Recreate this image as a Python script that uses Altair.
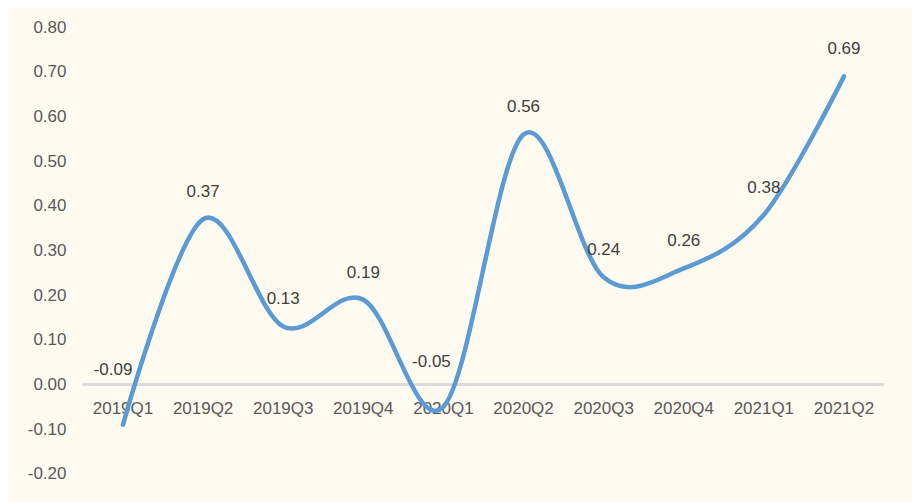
import altair as alt
import pandas as pd

quarters = ["2019Q1", "2019Q2", "2019Q3", "2019Q4", "2020Q1",
            "2020Q2", "2020Q3", "2020Q4", "2021Q1", "2021Q2"]
values = [-0.09, 0.37, 0.13, 0.19, -0.05, 0.56, 0.24, 0.26, 0.38, 0.69]
y_ticks = [-0.2, -0.1, 0.0, 0.1, 0.2, 0.3, 0.4, 0.5, 0.6, 0.7, 0.8]

df = pd.DataFrame({"q": quarters, "v": values})

FONT = "Liberation Sans"
BG = "#FFFAF0"
FS = 17

x = alt.X("q:N", sort=quarters, axis=None,
          scale=alt.Scale(paddingInner=0, paddingOuter=0))
y = alt.Y("v:Q", scale=alt.Scale(domain=[-0.2, 0.8], nice=False, zero=False),
          axis=alt.Axis(values=y_ticks, title=None, domain=False,
                        labelExpr="replace(format(datum.value, '.2f'), '\u2212', '-')",
                        ticks=False, grid=False, labelFont=FONT, labelFontSize=FS,
                        labelColor="#595959", labelPadding=17))

base = alt.Chart(df).transform_calculate(
    lbl="replace(format(datum.v, '.2f'), '\u2212', '-')")

zero = base.mark_rule(color="#D9D9D9", strokeWidth=1.5).encode(
    x=alt.value(0), x2=alt.value(802), y=alt.datum(0))

xlabels = base.mark_text(font=FONT, fontSize=FS, color="#595959",
                         baseline="middle", dy=25).encode(
    x=x, y=alt.datum(0), text="q:N")

line = base.mark_line(interpolate="cardinal", color="#5B9BD5", strokeWidth=4.5,
                      strokeCap="round").encode(x=x, y=y)

lab_pos = base.transform_filter("datum.v >= 0").mark_text(
    font=FONT, fontSize=FS, color="#404040", dy=-27, baseline="middle").encode(
    x=x, y=alt.Y("v:Q"), text="lbl:N")

lab_n1 = base.transform_filter("datum.q == '2019Q1'").mark_text(
    font=FONT, fontSize=FS, color="#404040", dy=-55, dx=-10, baseline="middle").encode(
    x=x, y=alt.Y("v:Q"), text="lbl:N")

lab_n2 = base.transform_filter("datum.q == '2020Q1'").mark_text(
    font=FONT, fontSize=FS, color="#404040", dy=-45, dx=-12, baseline="middle").encode(
    x=x, y=alt.Y("v:Q"), text="lbl:N")

chart = alt.layer(zero, xlabels, line, lab_pos, lab_n1, lab_n2).properties(
    width=802, height=447,
    autosize=alt.AutoSizeParams(type="none"),
    padding={"left": 75, "top": 19, "right": 28, "bottom": 28},
    background=BG,
).configure_view(stroke=None)

chart.save("out.html", embed_options={"renderer": "svg", "actions": False})
